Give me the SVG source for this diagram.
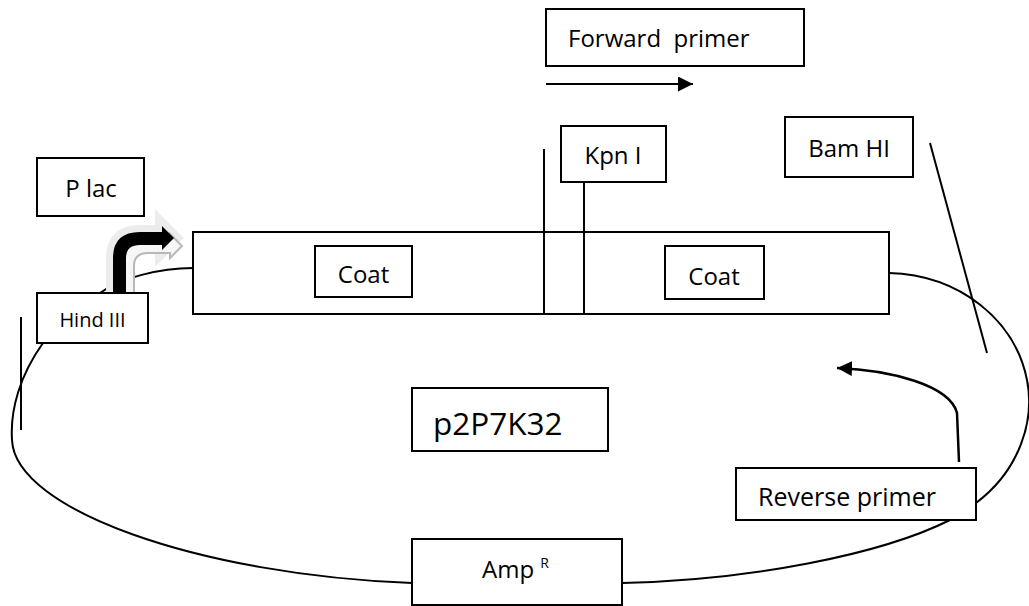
<svg xmlns="http://www.w3.org/2000/svg" width="1029" height="606" viewBox="0 0 1029 606">
<style>
.box{fill:#fff;stroke:#000;stroke-width:2}
.frame{fill:none;stroke:#000;stroke-width:2}
.ln{fill:none;stroke:#000;stroke-width:2}
.t{font-family:"Open Sans","Liberation Sans",sans-serif;font-size:24px;fill:#000}
</style>
<defs>
<marker id="ah" viewBox="0 0 10 10" refX="10" refY="5" markerWidth="7.5" markerHeight="7.5" markerUnits="strokeWidth" orient="auto">
<path d="M0,0 L10,5 L0,10 Z" fill="#000"/>
</marker>
<marker id="ah2" viewBox="0 0 10 10" refX="10" refY="5" markerWidth="6" markerHeight="6" markerUnits="strokeWidth" orient="auto">
<path d="M0,0 L10,5 L0,10 Z" fill="#000"/>
</marker>
</defs>
<rect width="1029" height="606" fill="#fff"/>
<g id="connectors">
<path class="ln" d="M193,268 C160,268 120,278 100,293"/>
<path class="ln" d="M43,343 C20,375 10,410 12,440 C15,510 200,575 412,583"/>
<path class="ln" d="M622,583 C750,580 880,555 950,520"/>
<path class="ln" d="M976,503 C1020,470 1035,420 1027,380 C1015,320 960,275 889,273"/>
<line class="ln" x1="930" y1="143" x2="987" y2="353"/>
<line class="ln" x1="21" y1="317" x2="21" y2="430"/>
<line class="ln" x1="544" y1="149" x2="544" y2="314"/>
<line class="ln" x1="584" y1="182" x2="584" y2="314"/>
<line class="ln" x1="546" y1="84" x2="693" y2="84" marker-end="url(#ah)"/>
<path class="ln" style="stroke-width:2.5" d="M959,462 L957,413 C950,385 890,370 837,368" marker-end="url(#ah2)"/>
</g>
<g id="node-main">
<rect class="frame" x="193" y="232" width="696" height="82"/>
</g>
<g id="node-coat1">
<rect class="box" x="315" y="246" width="97" height="51"/>
<text class="t" x="363.5" y="283" text-anchor="middle">Coat</text>
</g>
<g id="node-coat2">
<rect class="box" x="665" y="246" width="99" height="53"/>
<text class="t" x="714" y="285" text-anchor="middle">Coat</text>
</g>
<g id="node-forward">
<rect class="box" x="546" y="9" width="258" height="57"/>
<text class="t" x="568" y="47" xml:space="preserve">Forward  primer</text>
</g>
<g id="node-kpn">
<rect class="box" x="561" y="126" width="105" height="56"/>
<text class="t" x="613" y="164" text-anchor="middle">Kpn I</text>
</g>
<g id="node-bam">
<rect class="box" x="785" y="117" width="128" height="60"/>
<text class="t" x="849" y="157" text-anchor="middle">Bam HI</text>
</g>
<g id="node-plac">
<rect class="box" x="37" y="158" width="107" height="58"/>
<text class="t" x="91" y="197" text-anchor="middle">P lac</text>
</g>
<g id="node-promoter">
<path d="M113,293 L113,258 Q113,232 140,232 L162,232 L162,226 L174,238 L162,250 L162,245 L140,245 Q126,245 126,258 L126,293 Z" fill="none" stroke="#ececec" stroke-width="14" stroke-linejoin="miter"/>
<path d="M113,293 L113,258 Q113,232 140,232 L162,232 L162,226 L174,238 L162,250 L162,245 L140,245 Q126,245 126,258 L126,293 Z" transform="translate(8,8)" fill="#f6f6f6" stroke="#b8b8b8" stroke-width="2"/>
<path d="M113,293 L113,258 Q113,232 140,232 L162,232 L162,226 L174,238 L162,250 L162,245 L140,245 Q126,245 126,258 L126,293 Z" fill="#000"/>
</g>
<g id="node-hind">
<rect class="box" x="37" y="293" width="111" height="50"/>
<text class="t" x="92.5" y="327" text-anchor="middle" style="font-size:20px">Hind III</text>
</g>
<g id="node-plasmid">
<rect class="box" x="412" y="388" width="196" height="63"/>
<text class="t" x="433" y="435" style="font-size:31.5px">p2P7K32</text>
</g>
<g id="node-reverse">
<rect class="box" x="736" y="468" width="240" height="52"/>
<text class="t" x="758" y="506" style="font-size:25px">Reverse primer</text>
</g>
<g id="node-amp">
<rect class="box" x="412" y="539" width="210" height="66"/>
<text class="t" x="482" y="578">Amp <tspan style="font-size:14px" dy="-10">R</tspan></text>
</g>
</svg>
